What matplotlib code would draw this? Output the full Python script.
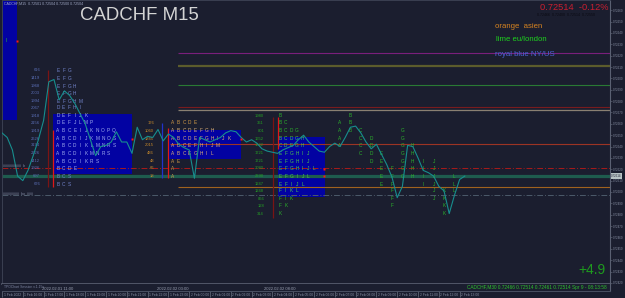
import matplotlib
matplotlib.use("Agg")
import matplotlib.pyplot as plt
import matplotlib.transforms as mtransforms
from matplotlib.patches import Rectangle
from matplotlib.ticker import MultipleLocator, FormatStrFormatter

plt.rcParams['font.family'] = ['Liberation Sans', 'DejaVu Sans']

# ---------------- data ----------------
title = "CADCHF M15"
bar_hours = 0.25   # M15 bars, x axis in hours since 1 Feb 15:00
closes = [0.72552, 0.72548, 0.72537, 0.72514, 0.72510, 0.72519, 0.72532, 0.72546, 0.72563, 0.72597,
          0.72599, 0.72581, 0.72589, 0.72585, 0.72578, 0.72569, 0.72560, 0.72546, 0.72532, 0.72540,
          0.72541, 0.72544, 0.72553, 0.72544, 0.72544, 0.72534, 0.72557, 0.72546, 0.72549, 0.72548,
          0.72555, 0.72545, 0.72551, 0.72548, 0.72542, 0.72539, 0.72537, 0.72512, 0.72548, 0.72546,
          0.72544, 0.72546, 0.72548, 0.72552, 0.72554, 0.72553, 0.72548, 0.72544, 0.72546, 0.72543,
          0.72538, 0.72536, 0.72535, 0.72534, 0.72537, 0.72539, 0.72541, 0.72546, 0.72550, 0.72544,
          0.72540, 0.72536, 0.72535, 0.72540, 0.72543, 0.72540, 0.72548, 0.72557, 0.72558, 0.72552,
          0.72544, 0.72538, 0.72542, 0.72533, 0.72524, 0.72513, 0.72495, 0.72505, 0.72541, 0.72540,
          0.72530, 0.72519, 0.72517, 0.72514, 0.72505, 0.72501, 0.72481, 0.72497, 0.72511, 0.72514]
last_price = 0.72514

hour_ticks = list(range(23))
hour_labels = ["1 Feb 2022", "1 Feb 16:00", "1 Feb 17:00", "1 Feb 18:00", "1 Feb 19:00",
               "1 Feb 20:00", "1 Feb 21:00", "1 Feb 22:00", "1 Feb 23:00", "2 Feb 00:00",
               "2 Feb 01:00", "2 Feb 02:00", "2 Feb 03:00", "2 Feb 04:00", "2 Feb 05:00",
               "2 Feb 06:00", "2 Feb 07:00", "2 Feb 08:00", "2 Feb 09:00", "2 Feb 10:00",
               "2 Feb 11:00", "2 Feb 12:00", "2 Feb 13:00"]

# horizontal levels
level_prices = [0.72622, 0.72611, 0.72594, 0.72575, 0.72572, 0.72542, 0.72521, 0.72514, 0.72504, 0.72497]
level_start = [8.46, 8.46, 8.46, 8.46, 8.46, 8.08, 0.0, 0.0, 8.46, 0.0]
level_colors = ['#7a1f7c', '#5c5c2c', '#2a7a34', '#781c1e', '#8a8072', '#9c3424',
                '#a81a1a', '#1e5c4e', '#a0621e', '#4c5a6a']
level_widths = [0.8, 1.6, 0.8, 0.8, 0.9, 0.8, 0.7, 2.3, 0.8, 0.7]
level_styles = ['-', '-', '-', '-', '-', '-', (0, (6, 2, 1, 2)), '-', '-', (0, (6, 2, 1, 2))]

# TPO price grid
tpo_levels = [0.72607, 0.72600, 0.72593, 0.72587, 0.72580, 0.72574, 0.72567, 0.72561, 0.72554, 0.72547,
              0.72541, 0.72534, 0.72527, 0.72521, 0.72514, 0.72507, 0.72501, 0.72494, 0.72488, 0.72481]

# profile 1 (NY/US)
p1_first = 0
p1_counts = ["616", "1419", "1968", "2003", "1994", "2067", "1918", "2156", "1919", "2626",
             "3194", "2626", "1412", "1926", "697", "676"]
p1_rows = ["EFG", "EFG", "EFGH", "EFGH", "EFGHM", "DEFHI", "DEFIJK", "DEFJLMP", "ABCEIJKNOPQ",
           "ABCDIJKMNOS", "ABCDIKLMNRS", "ABCDIKMNRS", "ABCDIKRS", "BCDE", "BCS", "BCS"]
# profile 2 (asien)
p2_first = 7
p2_counts = ["176", "1060", "1845", "2015", "486", "48", "66", "18"]
p2_rows = ["ABCDE", "ABCDEFGH", "ABCDEFGHIJK", "ABCEFHIJM", "ABCEGHIL", "AE", "A", "A"]
# profile 3 (eu/london)
p3_first = 6
p3_counts = ["1980", "361", "801", "1652", "1642", "1721", "1721", "2080", "2290", "1247",
             "1248", "866", "128", "314"]
p3_rows = ["B", "BC", "BCDG", "BCDGH", "CDEGH", "EFGHIJ", "EFGHIJ", "EFGHIJL", "EFGIJL",
           "EFIJL", "FIKL", "FIK", "FK", "K"]
# developing profile: 30-min periods
live_letters = ["A", "B", "C", "D", "E", "F", "G", "H", "I", "J", "K", "L"]
live_start = 16.25
live_hi_row = [7, 6, 8, 9, 11, 13, 8, 10, 12, 12, 16, 14]
live_lo_row = [10, 8, 11, 12, 15, 18, 14, 14, 15, 17, 19, 16]

# value areas (hours, prices)
va_start = [0.0, 2.45, 8.03, 13.27]
va_end = [0.72, 6.25, 11.49, 15.53]
va_high = [0.72680, 0.72569, 0.72555, 0.72548]
va_low = [0.72563, 0.72516, 0.72529, 0.72496]

# vertical session lines
vl_time = [2.21, 2.45, 7.69, 7.98, 13.03, 13.27]
vl_high = [0.72607, 0.72555, 0.72561, 0.72556, 0.72566, 0.72566]
vl_low = [0.72504, 0.72504, 0.72512, 0.72512, 0.72477, 0.72538]
vl_color = ['#7a1414', '#e01818', '#2233cc', '#e01818', '#7a1414', '#e01818']

poc_time = [6.25, 11.49, 15.48, 15.48, 0.72]
poc_price = [0.72547, 0.72547, 0.72520, 0.72514, 0.72633]

session_labels = ["2022.02.01 11:00", "2022.02.02 03:00", "2022.02.02 08:00"]

# ---------------- figure ----------------
BG = '#1b1e2f'
W, H = 625.0, 298.0
fig = plt.figure(figsize=(6.25, 2.98), dpi=100)
fig.patch.set_facecolor(BG)


def box(x0, y0, x1, y1):
    return [x0 / W, 1 - y1 / H, (x1 - x0) / W, (y1 - y0) / H]


XMAX = 29.23
ax = fig.add_axes(box(2, 0, 610, 284))
ax.set_facecolor(BG)
ax.set_xlim(0, XMAX)
ax.set_ylim(0.72419, 0.72669)
ax.set_xticks([])
ax.yaxis.tick_right()
ax.yaxis.set_major_locator(MultipleLocator(0.0001))
ax.yaxis.set_major_formatter(FormatStrFormatter('%.5f'))
ax.tick_params(axis='y', length=1.5, width=0.5, colors='#5a6070', labelcolor='#8890a4',
               labelsize=2.1, pad=0.4)
for s in ['top', 'left']:
    ax.spines[s].set_color('#3a4052')
    ax.spines[s].set_linewidth(0.7)
ax.spines['right'].set_color('#5a6072')
ax.spines['right'].set_linewidth(0.8)
ax.spines['bottom'].set_color('#5a6072')
ax.spines['bottom'].set_linewidth(1.2)

VA = '#0202a2'
for xs, xe, hi, lo in zip(va_start, va_end, va_high, va_low):
    ax.add_patch(Rectangle((xs, lo), xe - xs, hi - lo, fc=VA, ec='none', zorder=1))

for p, xs, c, w, ls in zip(level_prices, level_start, level_colors, level_widths, level_styles):
    ax.hlines(p, xs, XMAX, colors=c, linewidths=w, linestyles=ls, zorder=2)

for t, hi, lo, c in zip(vl_time, vl_high, vl_low, vl_color):
    ax.vlines(t, lo, hi, colors=c, linewidths=0.9, zorder=3)

# TPO profiles
step = 0.27


def draw_profile(first, counts, rows, num_x, let_x, ncol, lcol, lcol_in, va_idx):
    for k, (cnt, row) in enumerate(zip(counts, rows)):
        p = tpo_levels[first + k]
        ax.text(num_x, p, cnt, ha='right', va='center', fontsize=3.0, color=ncol, zorder=4)
        inside = va_low[va_idx] <= p <= va_high[va_idx]
        for j, ch in enumerate(row):
            ax.text(let_x + j * step, p, ch, ha='center', va='center', fontsize=3.4,
                    color=lcol_in if inside else lcol, zorder=4)


draw_profile(p1_first, p1_counts, p1_rows, 1.83, 2.69, '#5a6eb6', '#7284cc', '#a0acee', 1)
draw_profile(p2_first, p2_counts, p2_rows, 7.31, 8.21, '#c88a2a', '#d09a48', '#e0b278', 2)
draw_profile(p3_first, p3_counts, p3_rows, 12.6, 13.37, '#24a024', '#2cb42c', '#4cc84c', 3)

for k, ch in enumerate(live_letters):
    t = live_start + k * 0.5
    for r in range(live_hi_row[k], live_lo_row[k] + 1):
        ax.text(t, tpo_levels[r], ch, ha='center', va='center', fontsize=3.4,
                color='#2cb42c', zorder=4)

times = [i * bar_hours for i in range(len(closes))]
ax.plot(times, closes, color='#178e8e', lw=0.8, zorder=5)
ax.plot(poc_time, poc_price, 's', ms=2.0, color='#ff1414', mec='none', zorder=6)

# current price tag on axis
trans = mtransforms.blended_transform_factory(ax.transAxes, ax.transData)
ax.text(1.002, last_price, "0.72514", transform=trans, ha='left', va='center', fontsize=2.1,
        color='#1b1e2f', zorder=7, clip_on=False,
        bbox=dict(boxstyle='square,pad=0.2', fc='#b8c2c4', ec='none'))

# bottom indicator strip with time axis
sax = fig.add_axes(box(2, 284, 610, 291))
sax.set_facecolor(BG)
sax.set_xlim(0, XMAX)
sax.set_ylim(0, 1)
sax.set_yticks([])
sax.set_xticks(hour_ticks)
sax.set_xticklabels(hour_labels, ha='left')
sax.tick_params(axis='x', length=4, width=0.5, colors='#6a7080', labelcolor='#8890a4',
                labelsize=2.4, pad=-2.6)
offset = mtransforms.ScaledTranslation(1.5 / 100, 0, fig.dpi_scale_trans)
for lab in sax.get_xticklabels():
    lab.set_transform(lab.get_transform() + offset)
for s in ['left', 'right', 'top']:
    sax.spines[s].set_visible(False)
sax.spines['bottom'].set_color('#4a5062')
sax.spines['bottom'].set_linewidth(0.7)
sax.spines['right'].set_visible(True)
sax.spines['right'].set_color('#5a6072')

for lbl, t in zip(session_labels, [2.69, 8.21, 13.37]):
    sax.text(t, 0.3, lbl, ha='center', va='center', fontsize=3.0, color='#9aa0b2')
sax.text(0.1, 0.55, "TPOChart Session v.1.15s", ha='left', va='center', fontsize=2.4,
         color='#7c84a0')


def ftext(x, y, s, **kw):
    fig.text(x / W, 1 - y / H, s, **kw)


ftext(80, 15, title, fontsize=13.4, color='#d4d4d4', ha='left', va='center')
ftext(4, 4, "CADCHF,M15  0.72501 0.72504 0.72500 0.72504", fontsize=2.6, color='#a0a8c4',
      ha='left', va='center')
ftext(608, 8, "0.72514  -0.12%", fontsize=6.7, color='#c81e30', ha='right', va='center')
ftext(537, 14.5, "0.72466  0.72400  0.72514  0.72550", fontsize=2.6, color='#0a0a12',
      ha='left', va='center')
ftext(495, 26, "orange  asien", fontsize=5.6, color='#d88420', ha='left', va='center')
ftext(496, 39.5, "lime eu/london", fontsize=5.6, color='#1ed21e', ha='left', va='center')
ftext(495, 54.5, "royal blue NY/US", fontsize=5.6, color='#4a64d8', ha='left', va='center')
ftext(578, 270, "+4.9", fontsize=10, color='#1e9a1e', ha='left', va='center')
ftext(607, 288, "CADCHF,M30 0.72466 0.72514 0.72461 0.72514 Spr 9 - 08:13:58", fontsize=3.4,
      color='#2ec02e', ha='right', va='center')
ftext(6, 41, "I", fontsize=3.4, color='#2cc02c', ha='left', va='center')
ftext(3, 166, "#########  b", fontsize=2.6, color='#8088a0', ha='left', va='center')
ftext(3, 193, "########  bo_###", fontsize=2.6, color='#8088a0', ha='left', va='center')

fig.savefig("out.png", dpi=100, facecolor=BG)
